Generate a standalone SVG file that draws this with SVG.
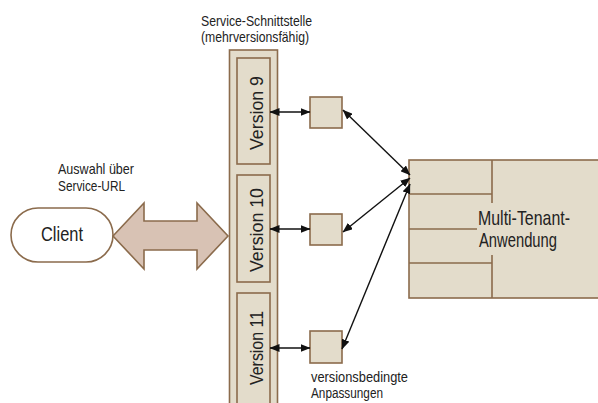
<svg xmlns="http://www.w3.org/2000/svg" width="598" height="403" viewBox="0 0 598 403">
  <style>
    .box { fill: #e3dccb; stroke: #8b6b4c; stroke-width: 1.6; }
    .div { stroke: #8b6b4c; stroke-width: 1.6; fill: none; }
    .lbl { font-family: "Liberation Sans", Arial, sans-serif; fill: #222; }
    .link { stroke: #111; stroke-width: 1.4; fill: none; marker-start: url(#head); marker-end: url(#head); }
  </style>
  <defs>
    <marker id="head" viewBox="0 0 10 8" refX="9.5" refY="4" markerWidth="10" markerHeight="8" markerUnits="userSpaceOnUse" orient="auto-start-reverse">
      <path d="M0,0 L10,4 L0,8 Z" fill="#111"/>
    </marker>
  </defs>

  <!-- interface column with its versions -->
  <g id="interface">
    <rect class="box" x="229.5" y="50" width="48" height="370"/>
    <text class="lbl" x="201" y="26" font-size="15" textLength="111" lengthAdjust="spacingAndGlyphs">Service-Schnittstelle</text>
    <text class="lbl" x="201" y="42" font-size="15" textLength="108" lengthAdjust="spacingAndGlyphs">(mehrversionsfähig)</text>
  </g>
  <g id="version9">
    <rect class="box" x="237" y="58" width="33" height="106"/>
    <text class="lbl" transform="translate(263,113) rotate(-90)" text-anchor="middle" font-size="19" textLength="74" lengthAdjust="spacingAndGlyphs">Version 9</text>
  </g>
  <g id="version10">
    <rect class="box" x="237" y="175" width="33" height="107"/>
    <text class="lbl" transform="translate(263,230) rotate(-90)" text-anchor="middle" font-size="19" textLength="84" lengthAdjust="spacingAndGlyphs">Version 10</text>
  </g>
  <g id="version11">
    <rect class="box" x="237" y="293" width="33" height="120"/>
    <text class="lbl" transform="translate(263,348) rotate(-90)" text-anchor="middle" font-size="19" textLength="74" lengthAdjust="spacingAndGlyphs">Version 11</text>
  </g>

  <!-- client -->
  <g id="client">
    <rect x="11" y="208" width="102" height="54" rx="27" fill="#fff" stroke="#8b6b4c" stroke-width="1.6"/>
    <text class="lbl" x="41" y="241" font-size="20" textLength="42" lengthAdjust="spacingAndGlyphs">Client</text>
  </g>
  <g id="selection-label">
    <text class="lbl" x="58" y="174" font-size="15" textLength="76" lengthAdjust="spacingAndGlyphs">Auswahl über</text>
    <text class="lbl" x="58" y="191" font-size="15" textLength="67" lengthAdjust="spacingAndGlyphs">Service-URL</text>
  </g>

  <!-- adapters -->
  <g id="adapter9"><rect class="box" x="310" y="97" width="32" height="31"/></g>
  <g id="adapter10"><rect class="box" x="310" y="214" width="32" height="31"/></g>
  <g id="adapter11"><rect class="box" x="310" y="331" width="32" height="32"/></g>
  <g id="adapter-label">
    <text class="lbl" x="311" y="382" font-size="14" textLength="97" lengthAdjust="spacingAndGlyphs">versionsbedingte</text>
    <text class="lbl" x="311" y="398" font-size="14" textLength="72" lengthAdjust="spacingAndGlyphs">Anpassungen</text>
  </g>

  <!-- application -->
  <g id="application">
    <rect class="box" x="409" y="160" width="200" height="138"/>
    <path class="div" d="M492,160 V203 M492,255 V298 M409,194 H492 M409,229 H477 M409,263 H492"/>
    <text class="lbl" x="478" y="225" font-size="21" textLength="92" lengthAdjust="spacingAndGlyphs">Multi-Tenant-</text>
    <text class="lbl" x="479" y="247" font-size="21" textLength="78" lengthAdjust="spacingAndGlyphs">Anwendung</text>
  </g>

  <!-- connectors -->
  <g id="connectors">
    <polygon points="113,236 144,203 144,221 197,221 197,203 228,236 197,269 197,250 144,250 144,269" fill="#d8c2b4" stroke="#8b6b4c" stroke-width="1.6"/>
    <line class="link" x1="270" y1="112" x2="310" y2="112"/>
    <line class="link" x1="270" y1="229" x2="310" y2="229"/>
    <line class="link" x1="270" y1="348" x2="310" y2="348"/>
    <line class="link" x1="343" y1="110" x2="410" y2="175"/>
    <line class="link" x1="343" y1="232" x2="410" y2="178"/>
    <line class="link" x1="342" y1="349" x2="410" y2="184"/>
  </g>
</svg>
